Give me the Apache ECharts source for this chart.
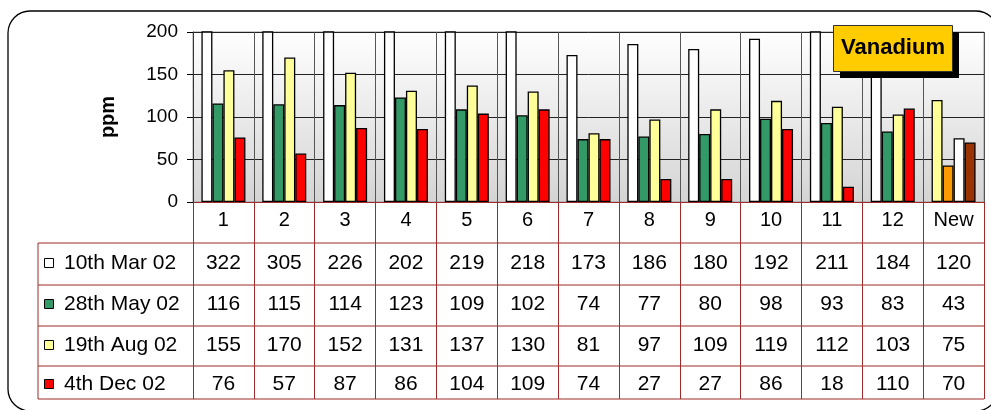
<!DOCTYPE html>
<html>
<head>
<meta charset="utf-8">
<script src="https://cdn.jsdelivr.net/npm/echarts@6/dist/echarts.min.js"></script>
<style>
  html, body { margin: 0; padding: 0; background: #fff; }
  #main { width: 991px; height: 410px; }
</style>
</head>
<body>
<div id="main"></div>
<script>
var categories = ["1", "2", "3", "4", "5", "6", "7", "8", "9", "10", "11", "12", "New"];
var seriesNames = ["10th Mar 02", "28th May 02", "19th Aug 02", "4th Dec 02"];
var mar02 = [322, 305, 226, 202, 219, 218, 173, 186, 180, 192, 211, 184, 120];
var may02 = [116, 115, 114, 123, 109, 102, 74, 77, 80, 98, 93, 83, 43];
var aug02 = [155, 170, 152, 131, 137, 130, 81, 97, 109, 119, 112, 103, 75];
var dec02 = [76, 57, 87, 86, 104, 109, 74, 27, 27, 86, 18, 110, 70];
var yTicks = [0, 50, 100, 150, 200];

var seriesColors = ["#ffffff", "#339966", "#ffff99", "#ff0000"];
var newColors = ["#ffff99", "#ff9900", "#ffffff", "#993300"];
var allData = [mar02, may02, aug02, dec02];

var FONT = "'Liberation Sans', Arial, sans-serif";
var TABLE_RED = "#9e2a2a";

var chartDom = document.getElementById("main");
var myChart = echarts.init(chartDom, null, { renderer: "canvas" });

var series = [];
for (var s = 0; s < allData.length; s++) {
  var items = [];
  for (var i = 0; i < allData[s].length; i++) {
    var it = { value: allData[s][i] };
    if (categories[i] === "New") {
      it.itemStyle = { color: newColors[s] };
    }
    items.push(it);
  }
  series.push({
    name: seriesNames[s],
    type: "bar",
    barWidth: 11,
    barGap: "0%",
    clip: true,
    itemStyle: { color: seriesColors[s], borderColor: "#000", borderWidth: 1.3 },
    data: items
  });
}

var option = {
  animation: false,
  grid: {
    left: 193, right: 7, top: 32, bottom: 208,
    show: true,
    borderColor: "#999",
    borderWidth: 1,
    backgroundColor: new echarts.graphic.LinearGradient(0, 0, 0, 1, [
      { offset: 0, color: "#ffffff" },
      { offset: 1, color: "#d4d4d4" }
    ])
  },
  xAxis: {
    type: "category",
    data: categories,
    axisLine: { lineStyle: { color: TABLE_RED, width: 1 } },
    axisTick: { show: true, length: 197, lineStyle: { color: TABLE_RED, width: 1 } },
    axisLabel: { color: "#000", fontSize: 20, fontFamily: FONT, margin: 8 },
    splitLine: { show: true, lineStyle: { color: "#555", width: 1 } }
  },
  yAxis: {
    type: "value",
    min: yTicks[0],
    max: yTicks[yTicks.length - 1],
    interval: yTicks[1] - yTicks[0],
    name: "ppm",
    nameLocation: "middle",
    nameRotate: 90,
    nameGap: 75,
    nameTextStyle: { color: "#000", fontSize: 20, fontWeight: "bold", fontFamily: FONT },
    axisLine: { show: true, lineStyle: { color: "#333", width: 1 } },
    axisTick: { show: true, length: 6, lineStyle: { color: "#000" } },
    axisLabel: { color: "#000", fontSize: 19, fontFamily: FONT, margin: 15 },
    splitLine: { show: true, lineStyle: { color: "#222", width: 1 } }
  },
  series: series
};

option && myChart.setOption(option);

// data table under the plot, built from the same arrays
var rowY = [263, 304, 345, 384];
var rowLines = [243, 285, 326, 366, 399];
var tableLeft = 38;
var tableRight = 984;
var graphics = [];

// outer rounded frame
graphics.push({
  type: "rect",
  shape: { x: 8, y: 11, width: 990, height: 400, r: 22 },
  style: { fill: null, stroke: "#000", lineWidth: 1.3 },
  z: 100
});

for (var r = 0; r < rowLines.length; r++) {
  graphics.push({
    type: "line",
    shape: { x1: tableLeft, y1: rowLines[r], x2: tableRight, y2: rowLines[r] },
    style: { stroke: TABLE_RED, lineWidth: 1 }
  });
}
graphics.push({
  type: "line",
  shape: { x1: tableLeft, y1: rowLines[0], x2: tableLeft, y2: rowLines[rowLines.length - 1] },
  style: { stroke: TABLE_RED, lineWidth: 1 }
});

for (var s2 = 0; s2 < allData.length; s2++) {
  graphics.push({
    type: "rect",
    shape: { x: 44.5, y: rowY[s2] - 4.5, width: 9, height: 9 },
    style: { fill: seriesColors[s2], stroke: "#000", lineWidth: 1 }
  });
  graphics.push({
    type: "text",
    style: {
      text: seriesNames[s2], x: 64, y: rowY[s2],
      textAlign: "left", textVerticalAlign: "middle",
      fontSize: 21, fontFamily: FONT, fill: "#000"
    }
  });
  for (var c = 0; c < categories.length; c++) {
    var px = myChart.convertToPixel({ xAxisIndex: 0 }, categories[c]);
    graphics.push({
      type: "text",
      style: {
        text: String(allData[s2][c]), x: px, y: rowY[s2],
        textAlign: "center", textVerticalAlign: "middle",
        fontSize: 21, fontFamily: FONT, fill: "#000"
      }
    });
  }
}

// title box with drop shadow
graphics.push({
  type: "rect",
  shape: { x: 840, y: 32, width: 119, height: 46 },
  style: { fill: "#000" },
  z: 50
});
graphics.push({
  type: "rect",
  shape: { x: 833.5, y: 25.5, width: 119, height: 46 },
  style: { fill: "#ffcc00", stroke: "#333", lineWidth: 1 },
  z: 51
});
graphics.push({
  type: "text",
  style: {
    text: "Vanadium", x: 893, y: 48,
    textAlign: "center", textVerticalAlign: "middle",
    fontSize: 22, fontWeight: "bold", fontFamily: FONT, fill: "#000"
  },
  z: 52
});

myChart.setOption({ graphic: graphics });
</script>
</body>
</html>
